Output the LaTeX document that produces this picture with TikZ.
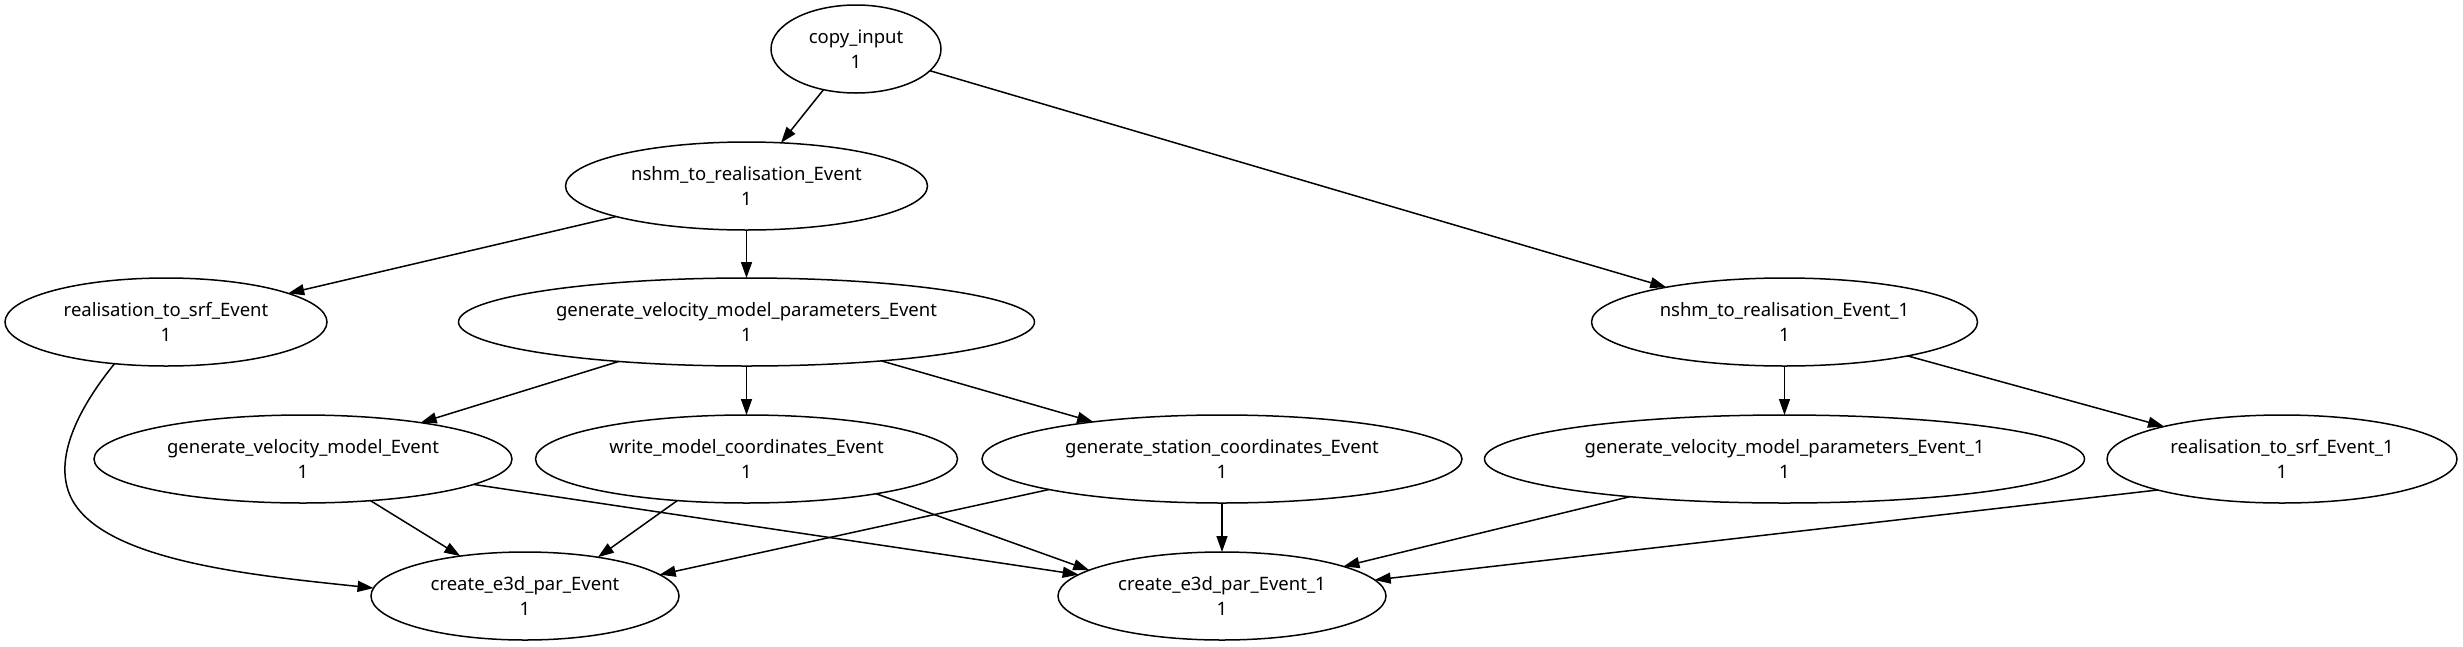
\documentclass[tikz,border=0pt]{standalone}
\usepackage{fontspec}
\setmainfont{Noto Sans}
\usetikzlibrary{shapes.geometric,arrows.meta}
\begin{document}
\begin{tikzpicture}[x=1pt,y=-1pt,
  job/.style={ellipse,draw,line width=1.5pt,inner sep=0pt,outer sep=0pt,minimum height=88pt,align=center,font=\fontsize{18.5}{25}\selectfont},
  edge/.style={line width=1.5pt,-{Triangle[length=16pt,width=11pt]}}]
\useasboundingbox[fill=white] (0,0) rectangle (2463,646);
\node[job,minimum width=170pt] (ci) at (856,49) {copy\_input\\1};
\node[job,minimum width=362pt] (n0) at (746.5,186) {nshm\_to\_realisation\_Event\\1};
\node[job,minimum width=322pt] (r0) at (166,322) {realisation\_to\_srf\_Event\\1};
\node[job,minimum width=576pt] (g0) at (746.5,322) {generate\_velocity\_model\_parameters\_Event\\1};
\node[job,minimum width=386pt] (n1) at (1784.5,322) {nshm\_to\_realisation\_Event\_1\\1};
\node[job,minimum width=418pt] (gvm) at (303,459) {generate\_velocity\_model\_Event\\1};
\node[job,minimum width=422pt] (wm) at (746.5,459) {write\_model\_coordinates\_Event\\1};
\node[job,minimum width=480pt] (gs) at (1222,459) {generate\_station\_coordinates\_Event\\1};
\node[job,minimum width=600pt] (g1) at (1784.5,459) {generate\_velocity\_model\_parameters\_Event\_1\\1};
\node[job,minimum width=350pt] (r1) at (2282,459) {realisation\_to\_srf\_Event\_1\\1};
\node[job,minimum width=308pt] (c0) at (525,596) {create\_e3d\_par\_Event\\1};
\node[job,minimum width=328pt] (c1) at (1222,596) {create\_e3d\_par\_Event\_1\\1};

\draw[edge] (ci) -- (n0);
\draw[edge] (ci) -- (n1);
\draw[edge] (n0) -- (r0);
\draw[edge] (n0) -- (g0);
\draw[edge] (n1) -- (g1);
\draw[edge] (n1) -- (r1);
\draw[edge] (g0) -- (gvm);
\draw[edge] (g0) -- (wm);
\draw[edge] (g0) -- (gs);
\draw[edge] (r0.219.5) .. controls (85,400) and (55,450) .. (68,490) .. controls (90,560) and (250,575) .. (c0.177);
\draw[edge] (gvm) -- (c0);
\draw[edge] (gvm) -- (c1);
\draw[edge] (wm.211.5) -- (c0.28);
\draw[edge] (wm.-15) -- (c1.169.7);
\draw[edge] (gs.190.5) -- (c0.9.8);
\draw[edge] (gs) -- (c1);
\draw[edge] (g1) -- (c1);
\draw[edge] (r1.194.5) -- (c1.6);
\end{tikzpicture}
\end{document}
